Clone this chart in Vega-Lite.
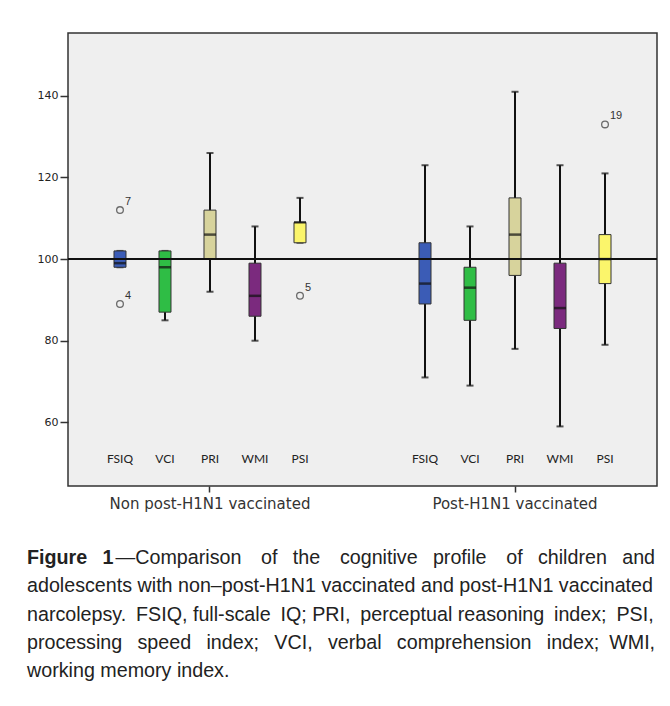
{
  "$schema": "https://vega.github.io/schema/vega-lite/v6.json",
  "width": 589,
  "height": 453,
  "autosize": {"type": "none"},
  "padding": {"left": 68, "top": 33, "right": 13, "bottom": 220},
  "background": "white",
  "config": {
    "view": {"fill": "#efefef", "stroke": "#333333", "strokeWidth": 1.5}
  },
  "datasets": {
    "boxes": [
      {"group": "Non post-H1N1 vaccinated", "index": "FSIQ", "q1": 98, "median": 99, "q3": 102, "lower": 98, "upper": 102},
      {"group": "Non post-H1N1 vaccinated", "index": "VCI", "q1": 87, "median": 98, "q3": 102, "lower": 85, "upper": 102},
      {"group": "Non post-H1N1 vaccinated", "index": "PRI", "q1": 100, "median": 106, "q3": 112, "lower": 92, "upper": 126},
      {"group": "Non post-H1N1 vaccinated", "index": "WMI", "q1": 86, "median": 91, "q3": 99, "lower": 80, "upper": 108},
      {"group": "Non post-H1N1 vaccinated", "index": "PSI", "q1": 104, "median": 109, "q3": 109, "lower": 104, "upper": 115},
      {"group": "Post-H1N1 vaccinated", "index": "FSIQ", "q1": 89, "median": 94, "q3": 104, "lower": 71, "upper": 123},
      {"group": "Post-H1N1 vaccinated", "index": "VCI", "q1": 85, "median": 93, "q3": 98, "lower": 69, "upper": 108},
      {"group": "Post-H1N1 vaccinated", "index": "PRI", "q1": 96, "median": 106, "q3": 115, "lower": 78, "upper": 141},
      {"group": "Post-H1N1 vaccinated", "index": "WMI", "q1": 83, "median": 88, "q3": 99, "lower": 59, "upper": 123},
      {"group": "Post-H1N1 vaccinated", "index": "PSI", "q1": 94, "median": 100, "q3": 106, "lower": 79, "upper": 121}
    ],
    "outliers": [
      {"group": "Non post-H1N1 vaccinated", "index": "FSIQ", "value": 112, "case": "7"},
      {"group": "Non post-H1N1 vaccinated", "index": "FSIQ", "value": 89, "case": "4"},
      {"group": "Non post-H1N1 vaccinated", "index": "PSI", "value": 91, "case": "5"},
      {"group": "Post-H1N1 vaccinated", "index": "PSI", "value": 133, "case": "19"}
    ]
  },
  "title": {
    "text": "Figure\u2002 1",
    "subtitle": [
      "\u200b\u2003\u2003\u2003\u2003\u2002—Comparison\u2003of\u2002 the\u2003cognitive\u2002 profile\u2003of\u2002 children\u2002 and",
      "adolescents with non–post-H1N1 vaccinated and post-H1N1 vaccinated",
      "narcolepsy.\u2002FSIQ, full-scale\u2002IQ; PRI,\u2002perceptual reasoning\u2002index;\u2002PSI,",
      "processing\u2002 speed\u2002 index;\u2002 VCI,\u2002 verbal\u2002 comprehension\u2002 index;\u2002WMI,",
      "working memory index."
    ],
    "orient": "bottom",
    "anchor": "start",
    "frame": "group",
    "dx": -41,
    "offset": 37,
    "font": "Liberation Sans",
    "fontSize": 19.7,
    "lineHeight": 19.7,
    "fontWeight": "bold",
    "color": "#222222",
    "subtitleFont": "Liberation Sans",
    "subtitleFontSize": 19.7,
    "subtitleFontWeight": "normal",
    "subtitleColor": "#222222",
    "subtitleLineHeight": 28.3,
    "subtitlePadding": -19.7
  },
  "encoding": {
    "x": {
      "field": "group",
      "type": "nominal",
      "scale": {"domain": ["Non post-H1N1 vaccinated", "Post-H1N1 vaccinated"], "paddingInner": 0.1, "paddingOuter": 0.01555},
      "axis": {
        "title": null,
        "labelAngle": 0,
        "labelLimit": 0,
        "domain": false,
        "ticks": true,
        "tickSize": 6,
        "tickColor": "#333333",
        "tickWidth": 1.5,
        "labelFont": "DejaVu Sans",
        "labelFontSize": 15,
        "labelColor": "#333333",
        "labelPadding": 4
      }
    },
    "xOffset": {
      "field": "index",
      "type": "nominal",
      "scale": {"domain": ["FSIQ", "VCI", "PRI", "WMI", "PSI"], "paddingInner": 0, "paddingOuter": 0.55}
    }
  },
  "layer": [
    {
      "data": {"name": "boxes"},
      "mark": {"type": "rule", "color": "#111111", "strokeWidth": 2},
      "encoding": {
        "y": {
          "field": "lower",
          "type": "quantitative",
          "scale": {"domain": [44.4, 155.4], "nice": false, "zero": false},
          "axis": {
            "title": null,
            "values": [60, 80, 100, 120, 140],
            "grid": false,
            "domain": false,
            "tickSize": 8,
            "tickColor": "#333333",
            "tickWidth": 1.5,
            "labelFont": "DejaVu Sans",
            "labelFontSize": 11,
            "labelColor": "#222222",
            "labelPadding": 2
          }
        },
        "y2": {"field": "upper"}
      }
    },
    {
      "data": {"name": "boxes"},
      "mark": {"type": "tick", "color": "#111111", "size": 7, "thickness": 2},
      "encoding": {"y": {"field": "lower", "type": "quantitative"}}
    },
    {
      "data": {"name": "boxes"},
      "mark": {"type": "tick", "color": "#111111", "size": 7, "thickness": 2},
      "encoding": {"y": {"field": "upper", "type": "quantitative"}}
    },
    {
      "data": {"name": "boxes"},
      "mark": {"type": "bar", "width": 12, "stroke": "#333333", "strokeWidth": 1},
      "encoding": {
        "y": {"field": "q1", "type": "quantitative"},
        "y2": {"field": "q3"},
        "color": {
          "field": "index",
          "type": "nominal",
          "scale": {"domain": ["FSIQ", "VCI", "PRI", "WMI", "PSI"], "range": ["#3b5cb6", "#2fbd45", "#d7d39c", "#7b2a7e", "#fbf56b"]},
          "legend": null
        }
      }
    },
    {
      "data": {"name": "boxes"},
      "mark": {"type": "tick", "color": "#111111", "size": 12, "thickness": 2.5},
      "encoding": {"y": {"field": "median", "type": "quantitative"}}
    },
    {
      "data": {"name": "boxes"},
      "mark": {"type": "rule", "color": "#111111", "strokeWidth": 1.5},
      "encoding": {"y": {"datum": 100}, "x": null, "xOffset": null}
    },
    {
      "data": {"name": "boxes"},
      "mark": {"type": "text", "font": "Lato", "fontSize": 12, "color": "#222222", "baseline": "middle"},
      "encoding": {"y": {"datum": 51}, "text": {"field": "index"}}
    },
    {
      "data": {"name": "outliers"},
      "mark": {"type": "point", "shape": "circle", "filled": false, "stroke": "#333333", "strokeWidth": 1.3, "size": 45},
      "encoding": {"y": {"field": "value", "type": "quantitative"}}
    },
    {
      "data": {"name": "outliers"},
      "mark": {"type": "text", "font": "Liberation Sans", "fontSize": 11, "color": "#333333", "align": "left", "baseline": "middle", "dx": 5, "dy": -8},
      "encoding": {"y": {"field": "value", "type": "quantitative"}, "text": {"field": "case"}}
    }
  ]
}
